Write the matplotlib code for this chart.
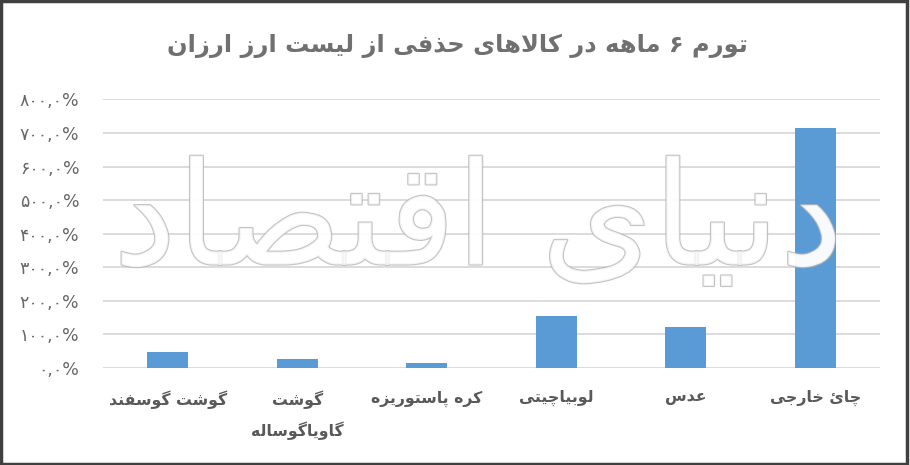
import matplotlib
matplotlib.use("Agg")
import matplotlib.pyplot as plt
from matplotlib.ticker import FuncFormatter, MultipleLocator
from matplotlib.patches import Rectangle
import matplotlib.patheffects as pe

# ---------------- data ----------------
categories = ["گوشت گوسفند", "گوشت\nگاویاگوساله", "کره پاستوریزه", "لوبیاچیتی", "عدس", "چائ خارجی"]
values = [48, 26, 14, 155, 122, 716]
title_text = "تورم ۶ ماهه در کالاهای حذفی از لیست ارز ارزان"
watermark_text = "دنیای اقتصاد"
y_max = 800
y_step = 100

# ------------- minimal Persian shaping (presentation forms + RTL) -------------
FORMS = {
    '\u0627': ('\uFE8D', '\uFE8E', None, None),
    '\u0628': ('\uFE8F', '\uFE90', '\uFE91', '\uFE92'),
    '\u067E': ('\uFB56', '\uFB57', '\uFB58', '\uFB59'),
    '\u062A': ('\uFE95', '\uFE96', '\uFE97', '\uFE98'),
    '\u062C': ('\uFE9D', '\uFE9E', '\uFE9F', '\uFEA0'),
    '\u0686': ('\uFB7A', '\uFB7B', '\uFB7C', '\uFB7D'),
    '\u062D': ('\uFEA1', '\uFEA2', '\uFEA3', '\uFEA4'),
    '\u062E': ('\uFEA5', '\uFEA6', '\uFEA7', '\uFEA8'),
    '\u062F': ('\uFEA9', '\uFEAA', None, None),
    '\u0630': ('\uFEAB', '\uFEAC', None, None),
    '\u0631': ('\uFEAD', '\uFEAE', None, None),
    '\u0632': ('\uFEAF', '\uFEB0', None, None),
    '\u0633': ('\uFEB1', '\uFEB2', '\uFEB3', '\uFEB4'),
    '\u0634': ('\uFEB5', '\uFEB6', '\uFEB7', '\uFEB8'),
    '\u0635': ('\uFEB9', '\uFEBA', '\uFEBB', '\uFEBC'),
    '\u0639': ('\uFEC9', '\uFECA', '\uFECB', '\uFECC'),
    '\u0641': ('\uFED1', '\uFED2', '\uFED3', '\uFED4'),
    '\u0642': ('\uFED5', '\uFED6', '\uFED7', '\uFED8'),
    '\u06A9': ('\uFB8E', '\uFB8F', '\uFB90', '\uFB91'),
    '\u06AF': ('\uFB92', '\uFB93', '\uFB94', '\uFB95'),
    '\u0644': ('\uFEDD', '\uFEDE', '\uFEDF', '\uFEE0'),
    '\u0645': ('\uFEE1', '\uFEE2', '\uFEE3', '\uFEE4'),
    '\u0646': ('\uFEE5', '\uFEE6', '\uFEE7', '\uFEE8'),
    '\u0647': ('\uFEE9', '\uFEEA', '\uFEEB', '\uFEEC'),
    '\u0648': ('\uFEED', '\uFEEE', None, None),
    '\u06CC': ('\uFBFC', '\uFBFD', '\uFBFE', '\uFBFF'),
    '\u0626': ('\uFE89', '\uFE8A', '\uFE8B', '\uFE8C'),
}


def _jt(c):
    if c in FORMS:
        return 'D' if FORMS[c][2] else 'R'
    return 'U'


def shape_line(text):
    chars = list(text)
    n = len(chars)
    res = []
    i = 0
    while i < n:
        c = chars[i]
        if c not in FORMS:
            res.append(c)
            i += 1
            continue
        prev = chars[i - 1] if i > 0 else None
        joins_prev = prev is not None and _jt(prev) == 'D'
        if c == '\u0644' and i + 1 < n and chars[i + 1] == '\u0627':
            res.append('\uFEFC' if joins_prev else '\uFEFB')
            i += 2
            continue
        nxt = chars[i + 1] if i + 1 < n else None
        joins_next = _jt(c) == 'D' and nxt is not None and _jt(nxt) != 'U'
        iso, fin, ini, med = FORMS[c]
        if joins_prev and joins_next:
            res.append(med)
        elif joins_prev:
            res.append(fin)
        elif joins_next:
            res.append(ini)
        else:
            res.append(iso)
        i += 1
    return ''.join(reversed(res))


def shape(text):
    return '\n'.join(shape_line(l) for l in text.split('\n'))


PERSIAN_DIGITS = str.maketrans('0123456789', '۰۱۲۳۴۵۶۷۸۹')


def pct_fmt(v, pos):
    return (f"{v:.1f}".replace('.', ',') + '%').translate(PERSIAN_DIGITS)


# ---------------- figure ----------------
plt.rcParams['font.family'] = ['DejaVu Sans']
W, H = 910, 465
fig = plt.figure(figsize=(W / 100, H / 100), dpi=100)
ax = fig.add_axes([103 / W, (H - 368) / H, (880 - 103) / W, (368 - 99.5) / H])

x = range(len(categories))
ax.bar(x, values, width=0.32, color='#5b9bd5', zorder=3)

ax.set_ylim(0, y_max)
ax.set_xlim(-0.5, len(categories) - 0.5)
ax.yaxis.set_major_locator(MultipleLocator(y_step))
ax.yaxis.set_major_formatter(FuncFormatter(pct_fmt))
ax.grid(axis='y', color='#d9d9d9', linewidth=1.3, zorder=0)
ax.set_axisbelow(True)
for s in ax.spines.values():
    s.set_visible(False)
ax.tick_params(axis='both', length=0)
ax.tick_params(axis='y', pad=17, labelsize=12.5, labelcolor='#666666')
ax.set_xticks(list(x))
ax.set_xticklabels([shape(c) for c in categories], fontsize=11.3,
                   fontweight='bold', color='#595959', linespacing=1.85, va='top')
ax.tick_params(axis='x', pad=16)

fig.text(457 / W, 1 - 46 / H, shape(title_text), ha='center', va='center',
         fontsize=17.4, fontweight='bold', color='#707070')

# watermark (kept clear of the y tick labels)
fig.text(478 / W, 1 - 225 / H, shape(watermark_text), ha='center', va='center',
         fontsize=103, color='white', alpha=0.8, zorder=5,
         path_effects=[pe.Stroke(linewidth=1.6, foreground='#b5b5b5'), pe.Normal()])

# figure border
fig.patches.append(Rectangle((0.001, 0.002), 0.996, 0.995, transform=fig.transFigure,
                             fill=False, edgecolor='#404040', linewidth=2.5))

fig.savefig('out.png', dpi=100, facecolor='white')
